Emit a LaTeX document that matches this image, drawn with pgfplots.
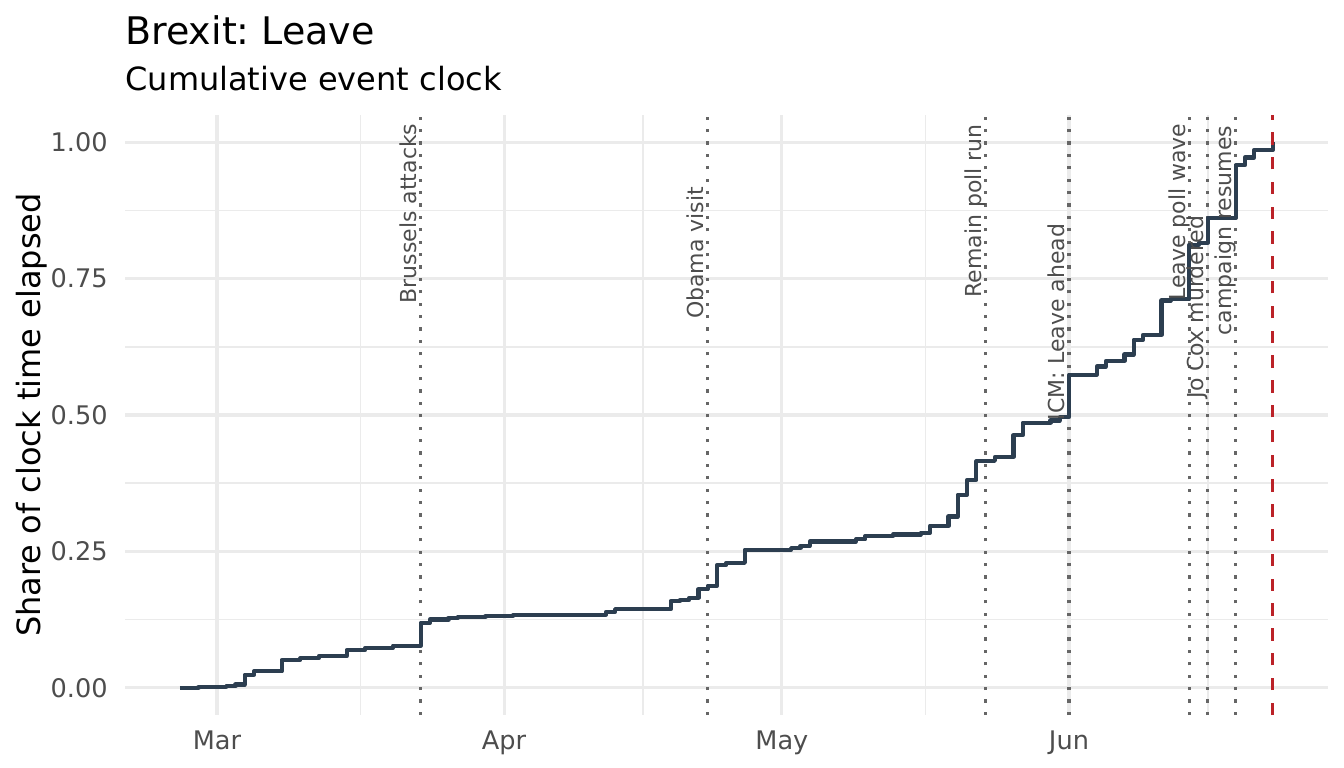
\documentclass[border=0pt]{standalone}
\usepackage{fontspec}
\setmainfont{DejaVu Sans}
\usepackage{pgfplots}
\usepackage{pgfplotstable}
\pgfplotsset{compat=1.18}
\frenchspacing
\definecolor{stepc}{HTML}{2C3E50}
\definecolor{gridc}{HTML}{EBEBEB}
\definecolor{evc}{HTML}{666666}
\definecolor{redc}{HTML}{BB2228}
\definecolor{tickc}{HTML}{4D4D4D}
\pgfplotstableread{
x y
-4 0
-2 0.001
1 0.003
2 0.006
3 0.024
4 0.030
7 0.051
9 0.054
11 0.058
14 0.069
16 0.073
19 0.077
22 0.119
23 0.125
25 0.128
26 0.130
29 0.1315
32 0.133
34 0.134
42 0.139
43 0.144
49 0.159
50 0.161
51 0.165
52 0.181
53 0.187
54 0.225
55 0.229
57 0.253
62 0.256
63 0.260
64 0.268
69 0.272
70 0.278
73 0.281
76 0.284
77 0.297
79 0.314
80 0.354
81 0.381
82 0.415
83 0.416
84 0.423
86 0.463
87 0.486
90 0.490
91 0.496
92 0.574
95 0.589
96 0.599
98 0.611
99 0.638
100 0.647
102 0.710
103 0.712
105 0.812
106 0.816
107 0.861
110 0.958
111 0.972
112 0.986
114 1.000
}\clocktable
\begin{document}
\frenchspacing
\begin{tikzpicture}
\path[use as bounding box] (0,0) rectangle (672bp,384bp);
\node[anchor=base west, inner sep=0pt, font=\fontsize{19bp}{22bp}\selectfont] at (62.5bp,361.5bp) {Brexit: Leave};
\node[anchor=base west, inner sep=0pt, font=\fontsize{16bp}{19bp}\selectfont] at (62.5bp,338.7bp) {Cumulative event clock};
\node[anchor=base, rotate=90, inner sep=0pt, font=\fontsize{16bp}{19bp}\selectfont] at (20bp,176.5bp) {Share of clock time elapsed};
\begin{axis}[
  at={(62.5bp,26.5bp)}, anchor=south west,
  width=601.5bp, height=300bp, scale only axis,
  xmin=-9.93, xmax=119.97, ymin=-0.05, ymax=1.05,
  axis line style={draw=none},
  major tick length=0pt, minor tick length=0pt,
  xtick={0,31,61,92}, xticklabels={Mar,Apr,May,Jun},
  minor xtick={15.5,46,76.5,107},
  ytick={0,0.25,0.5,0.75,1}, yticklabels={0.00,0.25,0.50,0.75,1.00},
  minor ytick={0.125,0.375,0.625,0.875},
  grid=both,
  major grid style={draw=gridc, line width=1.55bp},
  minor grid style={draw=gridc, line width=0.8bp},
  tick label style={font=\fontsize{12.8bp}{15bp}\selectfont, text=tickc, inner sep=0pt},
  xticklabel style={anchor=north, yshift=-7.8bp},
  yticklabel style={anchor=east, xshift=-8.5bp},
  clip=false,
]
\pgfplotsinvokeforeach{22,53,83,92,105,107,110}{
  \addplot[evc, line width=1.55bp, dash pattern=on 1.55bp off 4.65bp] coordinates {(#1,-0.05) (#1,1.05)};
}
\addplot[const plot, stepc, line width=2.1bp, line join=round] table[x=x,y=y] {\clocktable};
\addplot[redc, line width=1.55bp, dash pattern=on 6.2bp off 6.2bp] coordinates {(114,-0.05) (114,1.05)};
\tikzset{evlab/.style={rotate=90, anchor=base east, inner sep=0pt, font=\fontsize{11bp}{13bp}\selectfont, text=tickc}}
\node[evlab] at (axis cs:21.53,1.035) {Brussels attacks};
\node[evlab] at (axis cs:52.53,0.919) {Obama visit};
\node[evlab] at (axis cs:82.53,1.034) {Remain poll run};
\node[evlab] at (axis cs:91.53,0.851) {ICM: Leave ahead};
\node[evlab] at (axis cs:104.53,1.035) {Leave poll wave};
\node[evlab] at (axis cs:106.53,0.866) {Jo Cox murdered};
\node[evlab] at (axis cs:109.53,1.031) {campaign resumes};
\end{axis}
\end{tikzpicture}
\end{document}
